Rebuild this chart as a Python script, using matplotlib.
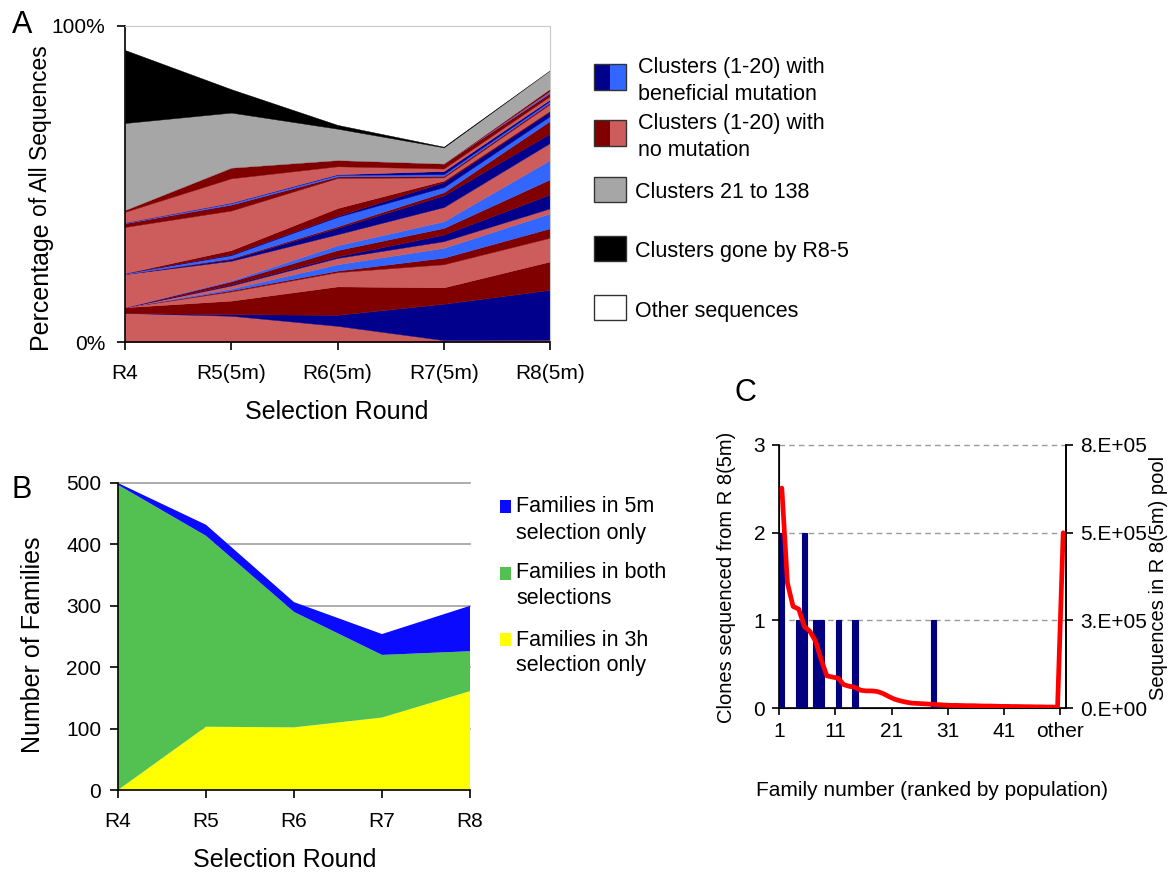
import matplotlib
matplotlib.use('Agg')
import matplotlib.pyplot as plt
from matplotlib.patches import Rectangle
import numpy as np

plt.rcParams['font.family'] = ['Liberation Sans', 'DejaVu Sans']

W, H = 1172, 873
fig = plt.figure(figsize=(W / 100, H / 100), dpi=100)


def ax_px(x0, y0, x1, y1):
    return fig.add_axes([x0 / W, 1 - y1 / H, (x1 - x0) / W, (y1 - y0) / H])


# ---------------- Panel A data (percent of all sequences) ----------------
rounds_A = ['R4', 'R5(5m)', 'R6(5m)', 'R7(5m)', 'R8(5m)']
# layer kinds, bottom to top: S = no mutation (light), D = no mutation (dark),
# N = beneficial mutation (dark), B = beneficial mutation (light)
layer_kind = ['S', 'N', 'D', 'S', 'D', 'B', 'S', 'N', 'D', 'B', 'S', 'N', 'D',
              'B', 'N', 'D', 'S', 'D', 'B', 'N', 'S', 'D', 'B', 'S', 'D']
pct_R4 = [9.2, 0, 1.8, 0, 0, 0, 0, 0, 0, 0, 10.5, 0, 0, 0.3, 0, 0, 14.6, 1.2, 0.2, 0, 3.4, 0.6, 0, 0, 0]
pct_R5 = [8.3, 0.5, 4.3, 2.9, 0.4, 0.5, 1.0, 0.3, 1.0, 0.3, 6.2, 0.5, 0.3, 1.0, 0.2, 1.4, 12.5, 1.9, 0.5, 0.1, 7.7, 3.4, 0, 0, 0]
pct_R6 = [5.1, 3.5, 9.0, 4.5, 0.5, 2.0, 2.0, 0.5, 2.0, 1.5, 3.5, 2.0, 0.5, 3.0, 0.3, 2.5, 9.5, 0.5, 0.5, 0.2, 2.5, 2.0, 0, 0, 0]
pct_R7 = [0.6, 11.5, 5.2, 7.3, 2.1, 3.1, 2.1, 2.1, 2.1, 2.1, 4.5, 3.7, 1.0, 1.6, 1.6, 0.5, 1.0, 0.5, 0.5, 1.0, 0.8, 1.6, 0, 0, 0]
pct_R8 = [0.7, 15.8, 9.0, 7.5, 3.0, 4.7, 1.6, 4.4, 4.8, 6.1, 5.4, 3.0, 4.0, 1.5, 1.5, 0.3, 2.0, 0.5, 0.5, 0.5, 1.0, 1.0, 0.5, 0.2, 0.7]
clusters_21_138 = [27.5, 17.4, 9.9, 5.1, 5.8]
clusters_gone = [23.1, 7.4, 1.2, 0.2, 0.0]

# ---------------- Panel B data ----------------
rounds_B = ['R4', 'R5', 'R6', 'R7', 'R8']
only_3h = [0, 103, 102, 118, 161]
both_sel = [497, 311, 188, 102, 65]
only_5m = [3, 18, 16, 34, 74]

# ---------------- Panel C data ----------------
family_labels = ['1', '11', '21', '31', '41', 'other']
clones = [2, 0, 0, 1, 2, 0, 1, 1, 0, 0,
          1, 0, 0, 1, 0, 0, 0, 0, 0, 0,
          0, 0, 0, 0, 0, 0, 0, 1, 0, 0,
          0, 0, 0, 0, 0, 0, 0, 0, 0, 0,
          0, 0, 0, 0, 0, 0, 0, 0, 0, 0,
          0]
seq_counts = [669000, 380000, 309000, 301000, 248000, 233000, 203000, 147000, 98000, 94000,
              91000, 71000, 66000, 63000, 54000, 52000, 52000, 50000, 44000, 35000,
              27000, 22000, 18000, 15000, 14000, 13000, 12000, 11000, 10000, 9000,
              8000, 8000, 7500, 7000, 7000, 6500, 6000, 6000, 5500, 5000,
              5000, 4500, 4500, 4000, 4000, 3500, 3500, 3000, 3000, 2500,
              533000]
right_tick_labels = ['0.E+00', '3.E+05', '5.E+05', '8.E+05']

NAVY = '#00008c'
LBLUE = '#3366ff'
DRED = '#800000'
SALMON = '#cd5c5c'
GREY = '#a6a6a6'
kind_color = {'S': SALMON, 'D': DRED, 'N': NAVY, 'B': LBLUE}

TICK_FS = 15

# ================= Panel A =================
axA = ax_px(125, 26, 550, 342)
xa = np.arange(len(rounds_A))
layer_vals = np.array([pct_R4, pct_R5, pct_R6, pct_R7, pct_R8]).T
series = list(layer_vals) + [clusters_21_138, clusters_gone]
cols = [kind_color[k] for k in layer_kind] + [GREY, '#000000']
polys = axA.stackplot(xa, *series, colors=cols, linewidth=0)
for p, c in zip(polys, cols):
    p.set_edgecolor(c)
    p.set_linewidth(0.3)
axA.set_xlim(0, 4)
axA.set_ylim(0, 100)
axA.set_xticks(xa)
axA.set_xticklabels(rounds_A)
axA.set_yticks([0, 100])
axA.set_yticklabels(['0%', '100%'])
axA.tick_params(axis='both', direction='out', length=6, width=1.2, labelsize=TICK_FS, pad=8)
axA.tick_params(axis='x', pad=10)
for s in ['top', 'right']:
    axA.spines[s].set_color('#c8c8c8')
    axA.spines[s].set_linewidth(0.8)
for s in ['left', 'bottom']:
    axA.spines[s].set_linewidth(1.2)

# ================= Panel B =================
axB = ax_px(118, 483, 470, 790)
xb = np.arange(len(rounds_B))
axB.stackplot(xb, only_3h, both_sel, only_5m,
              colors=['#ffff00', '#52c152', '#0a0aff'], linewidth=0, zorder=2)
for v in [100, 200, 300, 400, 500]:
    axB.axhline(v, color='#a0a0a0', lw=1.2, zorder=1, clip_on=False)
axB.set_xlim(0, 4)
axB.set_ylim(0, 500)
axB.set_xticks(xb)
axB.set_xticklabels(rounds_B)
axB.set_yticks([0, 100, 200, 300, 400, 500])
axB.tick_params(axis='both', direction='out', length=6, width=1.2, labelsize=TICK_FS, pad=6)
axB.tick_params(axis='x', pad=10)
for s in ['top', 'right']:
    axB.spines[s].set_visible(False)
for s in ['left', 'bottom']:
    axB.spines[s].set_linewidth(1.2)

# ================= Panel C =================
axC = ax_px(779, 445, 1066, 708)
xc = np.arange(1, len(clones) + 1)
axC.bar(xc, clones, width=0.9, color='#000080', edgecolor='#000080', linewidth=0.8, zorder=3)
for v in [1, 2, 3]:
    axC.axhline(v, color='#9a9a9a', lw=1.0, ls=(0, (4, 3)), zorder=1, clip_on=False)
axC.set_xlim(0.5, len(clones) + 0.5)
axC.set_ylim(0, 3)
axC.set_yticks([0, 1, 2, 3])
axC.set_xticks([0.5, 10.5, 20.5, 30.5, 40.5, 50.5])
axC.set_xticklabels(family_labels)
axC.spines['top'].set_visible(False)
axC.tick_params(axis='both', direction='out', length=5, width=1.2, labelsize=TICK_FS, pad=5)
for s in ['left', 'bottom', 'right']:
    axC.spines[s].set_linewidth(1.2)

axR = axC.twinx()
axR.plot(xc, seq_counts, color='#ff0000', lw=3.4, solid_joinstyle='round', solid_capstyle='round', zorder=5)
axR.set_ylim(0, 8e5)
axR.set_yticks([0, 8e5 / 3, 16e5 / 3, 8e5])
axR.set_yticklabels(right_tick_labels)
axR.spines['top'].set_visible(False)
axR.spines['right'].set_linewidth(1.2)
axR.tick_params(axis='y', direction='out', length=5, width=1.2, labelsize=TICK_FS, pad=5)

# ================= overlay text / legends =================
ov = fig.add_axes([0, 0, 1, 1])
ov.set_xlim(0, W)
ov.set_ylim(H, 0)
ov.axis('off')

ov.text(22, 25, 'A', fontsize=22, ha='center', va='center')
ov.text(22, 490, 'B', fontsize=22, ha='center', va='center')
ov.text(745, 393, 'C', fontsize=22, ha='center', va='center')

# Panel A y label (two sizes)
t1 = ov.text(52, 349, 'Percentage', rotation=90, fontsize=18, ha='right', va='bottom')
fig.canvas.draw()
h1 = t1.get_window_extent().height
ov.text(52, 349 - h1 - 5, 'of All Sequences', rotation=90, fontsize=16.5, ha='right', va='bottom')
ov.text(337, 412, 'Selection Round', fontsize=18, ha='center', va='center')

# Panel A legend
def box(x0, y0, x1, y1, fc):
    ov.add_patch(Rectangle((x0, y0), x1 - x0, y1 - y0, facecolor=fc, edgecolor='none'))


def frame(x0, y0, x1, y1):
    ov.add_patch(Rectangle((x0, y0), x1 - x0, y1 - y0, facecolor='none', edgecolor='#333333', lw=1.0))


box(594, 64, 610, 90, NAVY); box(610, 64, 626, 90, LBLUE); frame(594, 64, 626, 90)
box(594, 120, 610, 146, DRED); box(610, 120, 626, 146, SALMON); frame(594, 120, 626, 146)
box(594, 177, 626, 202, GREY); frame(594, 177, 626, 202)
box(594, 236, 626, 261, '#000000'); frame(594, 236, 626, 261)
box(594, 295, 626, 320, '#ffffff'); frame(594, 295, 626, 320)
LFS = 15.5
ov.text(638, 68, 'Clusters (1-20) with', fontsize=LFS, ha='left', va='center')
ov.text(638, 94, 'beneficial mutation', fontsize=LFS, ha='left', va='center')
ov.text(638, 124, 'Clusters (1-20) with', fontsize=LFS, ha='left', va='center')
ov.text(638, 150, 'no mutation', fontsize=LFS, ha='left', va='center')
ov.text(635, 192, 'Clusters 21 to 138', fontsize=LFS, ha='left', va='center')
ov.text(635, 251, 'Clusters gone by R8-5', fontsize=LFS, ha='left', va='center')
ov.text(635, 312, 'Other sequences', fontsize=LFS, ha='left', va='center')

# Panel B labels and legend
ov.text(33, 645, 'Number of Families', rotation=90, fontsize=18, ha='center', va='center')
ov.text(285, 860, 'Selection Round', fontsize=18, ha='center', va='center')
box(500, 500, 511, 513, '#0a0aff')
box(500, 567, 511, 580, '#52c152')
box(500, 633, 511, 646, '#ffff00')
ov.text(516, 507, 'Families in 5m', fontsize=LFS, ha='left', va='center')
ov.text(516, 533, 'selection only', fontsize=LFS, ha='left', va='center')
ov.text(516, 573, 'Families in both', fontsize=LFS, ha='left', va='center')
ov.text(516, 599, 'selections', fontsize=LFS, ha='left', va='center')
ov.text(516, 640, 'Families in 3h', fontsize=LFS, ha='left', va='center')
ov.text(516, 666, 'selection only', fontsize=LFS, ha='left', va='center')

# Panel C labels
ov.text(727, 577, 'Clones sequenced from R 8(5m)', rotation=90, fontsize=14.5, ha='center', va='center')
ov.text(1158, 578, 'Sequences in R 8(5m) pool', rotation=90, fontsize=14.5, ha='center', va='center')
ov.text(932, 790, 'Family number (ranked by population)', fontsize=15, ha='center', va='center')

fig.savefig('out.png', dpi=100)
